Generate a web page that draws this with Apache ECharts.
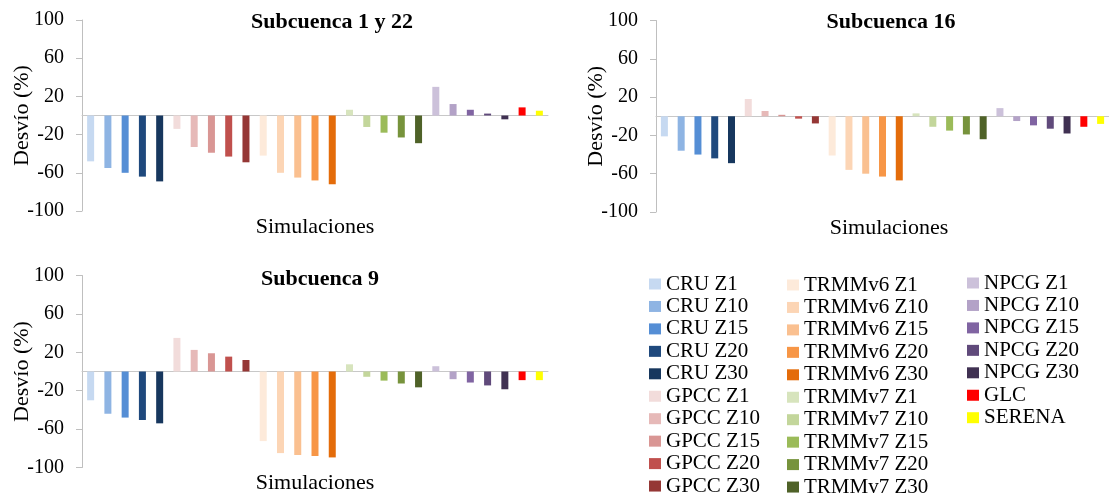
<!DOCTYPE html>
<html>
<head>
<meta charset="utf-8">
<script src="https://cdn.jsdelivr.net/npm/echarts@6/dist/echarts.min.js"></script>
<style>
  html, body { margin: 0; padding: 0; background: #fff; }
  #chart { width: 1109px; height: 497px; }
</style>
</head>
<body>
<div id="chart"></div>
<script>
// simulaciones (una barra por simulación)
const simulaciones = [
  'CRU Z1', 'CRU Z10', 'CRU Z15', 'CRU Z20', 'CRU Z30',
  'GPCC Z1', 'GPCC Z10', 'GPCC Z15', 'GPCC Z20', 'GPCC Z30',
  'TRMMv6 Z1', 'TRMMv6 Z10', 'TRMMv6 Z15', 'TRMMv6 Z20', 'TRMMv6 Z30',
  'TRMMv7 Z1', 'TRMMv7 Z10', 'TRMMv7 Z15', 'TRMMv7 Z20', 'TRMMv7 Z30',
  'NPCG Z1', 'NPCG Z10', 'NPCG Z15', 'NPCG Z20', 'NPCG Z30',
  'GLC', 'SERENA'
]
const colores = [
  '#c6d9f1', '#8eb4e3', '#558ed5', '#1f497d', '#17375e',
  '#f2dcdb', '#e6b9b8', '#d99694', '#c0504d', '#953735',
  '#fdeada', '#fcd5b5', '#fac090', '#f79646', '#e46c0a',
  '#d7e4bd', '#c3d69b', '#9bbb59', '#77933c', '#4f6228',
  '#ccc1da', '#b3a2c7', '#8064a2', '#604a7b', '#403152',
  '#ff0000', '#ffff00'
]

// desvío (%) por subcuenca
const subcuenca1y22 = [
  -48, -55, -60, -64, -69,
  -14, -33, -39, -43, -49,
  -42, -60, -65, -68, -72,
  6, -12, -18, -23, -29,
  30, 12, 6, 2, -4,
  8.5, 5
]
const subcuenca16 = [
  -21, -36, -40, -44, -49,
  18, 5.5, 1.5, -2.5, -7.5,
  -41, -56, -60, -63, -67,
  3, -11, -15, -19, -24,
  8.5, -5, -9.5, -13, -18,
  -11, -8
]
const subcuenca9 = [
  -30, -44, -48, -50.5, -54,
  35, 22.5, 19, 15.5, 12,
  -72.5, -85, -87, -88, -89.5,
  7.5, -5.5, -9.5, -12.5, -16.5,
  5.5, -8, -11.5, -14.5, -18.5,
  -9, -9
]

const fuente = '"Liberation Serif", "Times New Roman", serif'

const paneles = [
  { titulo: 'Subcuenca 1 y 22', datos: subcuenca1y22, grid: { left: 82, top: 20, width: 466, height: 191 }, tx: 332, ty: 22.5, sy: 227.5 },
  { titulo: 'Subcuenca 16', datos: subcuenca16, grid: { left: 656, top: 20.5, width: 466, height: 191.5 }, tx: 891, ty: 22.5, sy: 228 },
  { titulo: 'Subcuenca 9', datos: subcuenca9, grid: { left: 82, top: 275.5, width: 466, height: 192 }, tx: 320, ty: 279.5, sy: 483 }
]

const chart = echarts.init(document.getElementById('chart'))

const grid = paneles.map(p => p.grid)
const xAxis = paneles.map((p, g) => ({
  type: 'category',
  gridIndex: g,
  data: simulaciones,
  axisLine: { onZero: true, lineStyle: { color: '#c8c8c8', width: 1 } },
  axisTick: { show: false },
  axisLabel: { show: false },
  splitLine: { show: false }
}))
const yAxis = paneles.map((p, g) => ({
  type: 'value',
  gridIndex: g,
  min: -100,
  max: 100,
  interval: 40,
  name: 'Desvío (%)',
  nameLocation: 'middle',
  nameRotate: 90,
  nameGap: 49,
  nameMoveOverlap: false,
  nameTextStyle: { fontFamily: fuente, fontSize: 22, color: '#000' },
  axisLine: { show: true, lineStyle: { color: '#bfbfbf' } },
  axisTick: { show: true, length: 6, lineStyle: { color: '#bfbfbf' } },
  axisLabel: { fontFamily: fuente, fontSize: 20, color: '#000', margin: 18 },
  splitLine: { show: false }
}))

const series = []
paneles.forEach((p, g) => {
  simulaciones.forEach((nombre, i) => {
    series.push({
      type: 'bar',
      name: nombre,
      xAxisIndex: g,
      yAxisIndex: g,
      barWidth: 7,
      barGap: '-100%',
      itemStyle: { color: colores[i] },
      data: [[i, p.datos[i]]]
    })
  })
})

const graphic = []
paneles.forEach(p => {
  graphic.push({
    type: 'text', x: p.tx, y: p.ty,
    style: { text: p.titulo, font: 'bold 22px ' + fuente, fill: '#000', align: 'center', verticalAlign: 'middle' }
  })
  graphic.push({
    type: 'text', x: p.grid.left + p.grid.width / 2, y: p.sy,
    style: { text: 'Simulaciones', font: '22px ' + fuente, fill: '#000', align: 'center', verticalAlign: 'middle' }
  })
})

const leyenda = (left, top, items) => ({
  orient: 'vertical',
  left: left,
  top: top,
  height: 260,
  padding: 0,
  itemWidth: 12,
  itemHeight: 11,
  itemGap: 1.45,
  icon: 'rect',
  textStyle: { fontFamily: fuente, fontSize: 21, color: '#000', lineHeight: 21 },
  data: items
})

const option = {
  animation: false,
  backgroundColor: '#fff',
  grid: grid,
  xAxis: xAxis,
  yAxis: yAxis,
  legend: [
    leyenda(649, 273.5, simulaciones.slice(0, 10)),
    leyenda(787, 274.5, simulaciones.slice(10, 20)),
    leyenda(967, 272.5, simulaciones.slice(20))
  ],
  graphic: graphic,
  series: series
}

chart.setOption(option)
</script>
</body>
</html>
